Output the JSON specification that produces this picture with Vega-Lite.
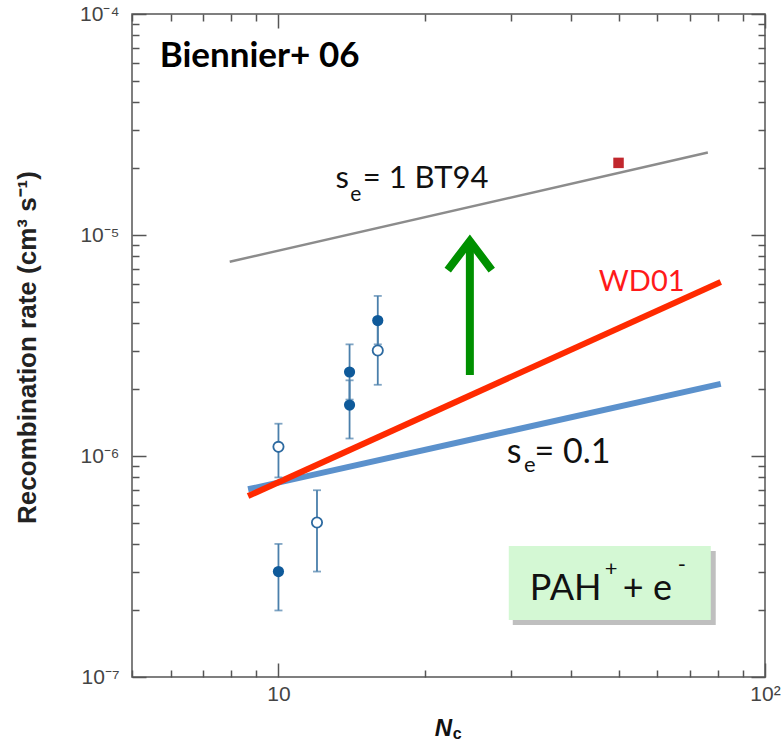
{
  "$schema": "https://vega.github.io/schema/vega-lite/v6.json",
  "width": 633,
  "height": 663,
  "autosize": {"type": "none"},
  "padding": {"left": 132, "top": 14, "right": 17, "bottom": 73},
  "background": "white",
  "config": {
    "view": {"stroke": "#555555", "strokeWidth": 1.5},
    "axis": {"grid": false, "domain": false, "tickColor": "#555555", "tickWidth": 1.5, "labelOverlap": false, "labelFlush": false}
  },
  "datasets": {
    "lines": [
      {"series": "BT94", "N": 7.94, "rate": 7.57e-6},
      {"series": "BT94", "N": 76.3, "rate": 2.36e-5},
      {"series": "s01", "N": 8.66, "rate": 7.07e-7},
      {"series": "s01", "N": 81.1, "rate": 2.12e-6},
      {"series": "WD01", "N": 8.66, "rate": 6.59e-7},
      {"series": "WD01", "N": 81.1, "rate": 6.13e-6}
    ],
    "arrowHead": [
      {"i": 0, "N": 22.28, "rate": 6.94e-6},
      {"i": 1, "N": 24.74, "rate": 9.39e-6},
      {"i": 2, "N": 27.44, "rate": 6.94e-6}
    ],
    "arrowShaft": [{"N": 24.74, "lo": 2.325e-6, "hi": 9.0e-6}],
    "expt": [
      {"N": 10, "rate": 3.0e-7, "lo": 2.0e-7, "hi": 4.0e-7, "kind": "filled"},
      {"N": 10, "rate": 1.1e-6, "lo": 8.0e-7, "hi": 1.4e-6, "kind": "open"},
      {"N": 12, "rate": 5.0e-7, "lo": 3.0e-7, "hi": 7.0e-7, "kind": "open"},
      {"N": 14, "rate": 2.4e-6, "lo": 1.8e-6, "hi": 3.2e-6, "kind": "filled"},
      {"N": 14, "rate": 1.7e-6, "lo": 1.2e-6, "hi": 2.2e-6, "kind": "filled"},
      {"N": 16, "rate": 4.1e-6, "lo": 3.2e-6, "hi": 5.3e-6, "kind": "filled"},
      {"N": 16, "rate": 3.0e-6, "lo": 2.1e-6, "hi": 4.0e-6, "kind": "open"}
    ],
    "bt94pt": [{"N": 50, "rate": 2.12e-5}],
    "box": [{"N": 29.74, "N2": 77.37, "rate": 3.915e-7, "rate2": 1.811e-7}],
    "shadow": [{"N": 30.31, "N2": 79.2, "rate": 3.716e-7, "rate2": 1.719e-7}],
    "titleText": [{"N": 5.7, "rate": 5.755e-5, "text": "Biennier+ 06"}],
    "bigText": [
      {"N": 13.1, "rate": 1.632e-5, "text": "s"},
      {"N": 14.9, "rate": 1.632e-5, "text": "= 1 BT94"}
    ],
    "bigSub": [{"N": 14.05, "rate": 1.43e-5, "text": "e"}],
    "s01Text": [
      {"N": 29.47, "rate": 9.3e-7, "text": "s"},
      {"N": 33.6, "rate": 9.3e-7, "text": "= 0.1"}
    ],
    "s01Sub": [{"N": 31.95, "rate": 8.47e-7, "text": "e"}],
    "wdText": [{"N": 45.54, "rate": 5.58e-6, "text": "WD01"}],
    "pahText": [
      {"N": 32.86, "rate": 2.23e-7, "text": "PAH"},
      {"N": 51.03, "rate": 2.23e-7, "text": "+ e"}
    ],
    "pahSup": [
      {"N": 46.84, "rate": 2.86e-7, "text": "+"},
      {"N": 66.2, "rate": 2.985e-7, "text": "-"}
    ],
    "subC": [{"N": 22.82, "rate": 5.24e-8, "text": "c"}]
  },
  "resolve": {"scale": {"x": "independent", "y": "independent"}},
  "layer": [
    {
      "layer": [
        {
          "data": {"name": "shadow"},
          "mark": {"type": "rect", "color": "#8a8a8a", "opacity": 0.55},
          "encoding": {
            "x": {"field": "N", "type": "quantitative", "scale": {"type": "log", "domain": [5, 100], "nice": false},
              "axis": {
                "values": [5, 6, 7, 8, 9, 10, 20, 30, 40, 50, 60, 70, 80, 90, 100],
                "labelExpr": "datum.value == 10 ? '10' : datum.value == 100 ? '10²' : ''",
                "tickSize": {"condition": {"test": "datum.value == 10 || datum.value == 100", "value": -14}, "value": -7},
                "labelPadding": 20,
                "labelFont": "Liberation Sans",
                "labelFontSize": 21,
                "labelColor": "#444444",
                "title": "N",
                "titleFont": "Liberation Sans",
                "titleFontStyle": "italic",
                "titleFontWeight": "bold",
                "titleFontSize": 24,
                "titleColor": "#111111",
                "titleX": 311,
                "titleY": 51,
                "titleAlign": "center",
                "titleBaseline": "middle"
              }},
            "x2": {"field": "N2"},
            "y": {"field": "rate", "type": "quantitative", "scale": {"type": "log", "domain": [1e-7, 1e-4], "nice": false},
              "axis": {
                "values": [1e-7, 2e-7, 3e-7, 4e-7, 5e-7, 6e-7, 7e-7, 8e-7, 9e-7, 1e-6, 2e-6, 3e-6, 4e-6, 5e-6, 6e-6, 7e-6, 8e-6, 9e-6, 1e-5, 2e-5, 3e-5, 4e-5, 5e-5, 6e-5, 7e-5, 8e-5, 9e-5, 1e-4],
                "labelExpr": "abs(log(datum.value)/LN10 - round(log(datum.value)/LN10)) < 0.01 ? (round(log(datum.value)/LN10) == -7 ? '10⁻⁷' : round(log(datum.value)/LN10) == -6 ? '10⁻⁶' : round(log(datum.value)/LN10) == -5 ? '10⁻⁵' : '10⁻⁴') : ''",
                "tickSize": {"condition": {"test": "abs(log(datum.value)/LN10 - round(log(datum.value)/LN10)) < 0.01", "value": -14}, "value": -7},
                "labelPadding": 27,
                "labelFont": "Liberation Sans",
                "labelFontSize": 21,
                "labelColor": "#444444",
                "title": "Recombination rate (cm³ s⁻¹)",
                "titleFont": "Liberation Sans",
                "titleFontWeight": "bold",
                "titleFontSize": 26,
                "titleColor": "#222222",
                "titleAngle": 270,
                "titleX": -105,
                "titleY": 333,
                "titleAlign": "center",
                "titleBaseline": "middle"
              }},
            "y2": {"field": "rate2"}
          }
        },
        {
          "data": {"name": "box"},
          "mark": {"type": "rect", "color": "#d4f8d4"},
          "encoding": {
            "x": {"field": "N", "type": "quantitative", "scale": {"type": "log", "domain": [5, 100], "nice": false}},
            "x2": {"field": "N2"},
            "y": {"field": "rate", "type": "quantitative", "scale": {"type": "log", "domain": [1e-7, 1e-4], "nice": false}},
            "y2": {"field": "rate2"}
          }
        },
        {
          "data": {"name": "lines"},
          "transform": [{"filter": "datum.series == 'BT94'"}],
          "mark": {"type": "line", "color": "#8c8c8c", "strokeWidth": 2.5},
          "encoding": {
            "x": {"field": "N", "type": "quantitative", "scale": {"type": "log", "domain": [5, 100], "nice": false}},
            "y": {"field": "rate", "type": "quantitative", "scale": {"type": "log", "domain": [1e-7, 1e-4], "nice": false}}
          }
        },
        {
          "data": {"name": "lines"},
          "transform": [{"filter": "datum.series == 's01'"}],
          "mark": {"type": "line", "color": "#5b91cc", "strokeWidth": 6},
          "encoding": {
            "x": {"field": "N", "type": "quantitative", "scale": {"type": "log", "domain": [5, 100], "nice": false}},
            "y": {"field": "rate", "type": "quantitative", "scale": {"type": "log", "domain": [1e-7, 1e-4], "nice": false}}
          }
        },
        {
          "data": {"name": "lines"},
          "transform": [{"filter": "datum.series == 'WD01'"}],
          "mark": {"type": "line", "color": "#ff2a00", "strokeWidth": 6},
          "encoding": {
            "x": {"field": "N", "type": "quantitative", "scale": {"type": "log", "domain": [5, 100], "nice": false}},
            "y": {"field": "rate", "type": "quantitative", "scale": {"type": "log", "domain": [1e-7, 1e-4], "nice": false}}
          }
        },
        {
          "data": {"name": "arrowShaft"},
          "mark": {"type": "rule", "color": "#009000", "strokeWidth": 8},
          "encoding": {
            "x": {"field": "N", "type": "quantitative", "scale": {"type": "log", "domain": [5, 100], "nice": false}},
            "y": {"field": "lo", "type": "quantitative", "scale": {"type": "log", "domain": [1e-7, 1e-4], "nice": false}},
            "y2": {"field": "hi"}
          }
        },
        {
          "data": {"name": "arrowHead"},
          "mark": {"type": "line", "color": "#009000", "strokeWidth": 8, "strokeJoin": "miter", "strokeCap": "butt"},
          "encoding": {
            "x": {"field": "N", "type": "quantitative", "scale": {"type": "log", "domain": [5, 100], "nice": false}},
            "y": {"field": "rate", "type": "quantitative", "scale": {"type": "log", "domain": [1e-7, 1e-4], "nice": false}},
            "order": {"field": "i"}
          }
        },
        {
          "data": {"name": "expt"},
          "mark": {"type": "rule", "color": "#4a7fab", "strokeWidth": 1.8},
          "encoding": {
            "x": {"field": "N", "type": "quantitative", "scale": {"type": "log", "domain": [5, 100], "nice": false}},
            "y": {"field": "lo", "type": "quantitative", "scale": {"type": "log", "domain": [1e-7, 1e-4], "nice": false}},
            "y2": {"field": "hi"}
          }
        },
        {
          "data": {"name": "expt"},
          "mark": {"type": "tick", "orient": "horizontal", "color": "#4a7fab", "size": 8, "thickness": 1.8},
          "encoding": {
            "x": {"field": "N", "type": "quantitative", "scale": {"type": "log", "domain": [5, 100], "nice": false}},
            "y": {"field": "lo", "type": "quantitative", "scale": {"type": "log", "domain": [1e-7, 1e-4], "nice": false}}
          }
        },
        {
          "data": {"name": "expt"},
          "mark": {"type": "tick", "orient": "horizontal", "color": "#4a7fab", "size": 8, "thickness": 1.8},
          "encoding": {
            "x": {"field": "N", "type": "quantitative", "scale": {"type": "log", "domain": [5, 100], "nice": false}},
            "y": {"field": "hi", "type": "quantitative", "scale": {"type": "log", "domain": [1e-7, 1e-4], "nice": false}}
          }
        },
        {
          "data": {"name": "expt"},
          "transform": [{"filter": "datum.kind == 'filled'"}],
          "mark": {"type": "point", "shape": "circle", "filled": true, "color": "#0f5a9a", "size": 125, "opacity": 1},
          "encoding": {
            "x": {"field": "N", "type": "quantitative", "scale": {"type": "log", "domain": [5, 100], "nice": false}},
            "y": {"field": "rate", "type": "quantitative", "scale": {"type": "log", "domain": [1e-7, 1e-4], "nice": false}}
          }
        },
        {
          "data": {"name": "expt"},
          "transform": [{"filter": "datum.kind == 'open'"}],
          "mark": {"type": "point", "shape": "circle", "filled": false, "fill": "white", "stroke": "#2d6aa0", "strokeWidth": 1.8, "size": 105, "opacity": 1},
          "encoding": {
            "x": {"field": "N", "type": "quantitative", "scale": {"type": "log", "domain": [5, 100], "nice": false}},
            "y": {"field": "rate", "type": "quantitative", "scale": {"type": "log", "domain": [1e-7, 1e-4], "nice": false}}
          }
        },
        {
          "data": {"name": "bt94pt"},
          "mark": {"type": "point", "shape": "square", "filled": true, "color": "#c1272d", "size": 110, "opacity": 1},
          "encoding": {
            "x": {"field": "N", "type": "quantitative", "scale": {"type": "log", "domain": [5, 100], "nice": false}},
            "y": {"field": "rate", "type": "quantitative", "scale": {"type": "log", "domain": [1e-7, 1e-4], "nice": false}}
          }
        },
        {
          "data": {"name": "titleText"},
          "mark": {"type": "text", "align": "left", "baseline": "alphabetic", "font": "Lato", "fontWeight": "bold", "fontSize": 35, "color": "#000000"},
          "encoding": {
            "x": {"field": "N", "type": "quantitative", "scale": {"type": "log", "domain": [5, 100], "nice": false}},
            "y": {"field": "rate", "type": "quantitative", "scale": {"type": "log", "domain": [1e-7, 1e-4], "nice": false}},
            "text": {"field": "text"}
          }
        },
        {
          "data": {"name": "bigText"},
          "mark": {"type": "text", "align": "left", "baseline": "alphabetic", "font": "Lato", "fontSize": 31, "color": "#111111"},
          "encoding": {
            "x": {"field": "N", "type": "quantitative", "scale": {"type": "log", "domain": [5, 100], "nice": false}},
            "y": {"field": "rate", "type": "quantitative", "scale": {"type": "log", "domain": [1e-7, 1e-4], "nice": false}},
            "text": {"field": "text"}
          }
        },
        {
          "data": {"name": "bigSub"},
          "mark": {"type": "text", "align": "left", "baseline": "alphabetic", "font": "Lato", "fontSize": 21, "color": "#111111"},
          "encoding": {
            "x": {"field": "N", "type": "quantitative", "scale": {"type": "log", "domain": [5, 100], "nice": false}},
            "y": {"field": "rate", "type": "quantitative", "scale": {"type": "log", "domain": [1e-7, 1e-4], "nice": false}},
            "text": {"field": "text"}
          }
        },
        {
          "data": {"name": "s01Text"},
          "mark": {"type": "text", "align": "left", "baseline": "alphabetic", "font": "Lato", "fontSize": 34, "color": "#111111"},
          "encoding": {
            "x": {"field": "N", "type": "quantitative", "scale": {"type": "log", "domain": [5, 100], "nice": false}},
            "y": {"field": "rate", "type": "quantitative", "scale": {"type": "log", "domain": [1e-7, 1e-4], "nice": false}},
            "text": {"field": "text"}
          }
        },
        {
          "data": {"name": "s01Sub"},
          "mark": {"type": "text", "align": "left", "baseline": "alphabetic", "font": "Lato", "fontSize": 22, "color": "#111111"},
          "encoding": {
            "x": {"field": "N", "type": "quantitative", "scale": {"type": "log", "domain": [5, 100], "nice": false}},
            "y": {"field": "rate", "type": "quantitative", "scale": {"type": "log", "domain": [1e-7, 1e-4], "nice": false}},
            "text": {"field": "text"}
          }
        },
        {
          "data": {"name": "wdText"},
          "mark": {"type": "text", "align": "left", "baseline": "alphabetic", "font": "Lato", "fontSize": 29, "color": "#ff1a1a"},
          "encoding": {
            "x": {"field": "N", "type": "quantitative", "scale": {"type": "log", "domain": [5, 100], "nice": false}},
            "y": {"field": "rate", "type": "quantitative", "scale": {"type": "log", "domain": [1e-7, 1e-4], "nice": false}},
            "text": {"field": "text"}
          }
        },
        {
          "data": {"name": "pahText"},
          "mark": {"type": "text", "align": "left", "baseline": "alphabetic", "font": "Lato", "fontSize": 36, "color": "#111111"},
          "encoding": {
            "x": {"field": "N", "type": "quantitative", "scale": {"type": "log", "domain": [5, 100], "nice": false}},
            "y": {"field": "rate", "type": "quantitative", "scale": {"type": "log", "domain": [1e-7, 1e-4], "nice": false}},
            "text": {"field": "text"}
          }
        },
        {
          "data": {"name": "pahSup"},
          "mark": {"type": "text", "align": "left", "baseline": "alphabetic", "font": "Lato", "fontSize": 22, "color": "#111111"},
          "encoding": {
            "x": {"field": "N", "type": "quantitative", "scale": {"type": "log", "domain": [5, 100], "nice": false}},
            "y": {"field": "rate", "type": "quantitative", "scale": {"type": "log", "domain": [1e-7, 1e-4], "nice": false}},
            "text": {"field": "text"}
          }
        },
        {
          "data": {"name": "subC"},
          "mark": {"type": "text", "align": "left", "baseline": "alphabetic", "font": "Liberation Sans", "fontWeight": "bold", "fontSize": 16, "color": "#111111"},
          "encoding": {
            "x": {"field": "N", "type": "quantitative", "scale": {"type": "log", "domain": [5, 100], "nice": false}},
            "y": {"field": "rate", "type": "quantitative", "scale": {"type": "log", "domain": [1e-7, 1e-4], "nice": false}},
            "text": {"field": "text"}
          }
        }
      ]
    },
    {
      "data": {"values": [{"N": 5, "rate": 1e-7}]},
      "mark": {"type": "point", "opacity": 0},
      "encoding": {
        "x": {"field": "N", "type": "quantitative", "scale": {"type": "log", "domain": [5, 100], "nice": false},
          "axis": {
            "orient": "top",
            "values": [5, 6, 7, 8, 9, 10, 20, 30, 40, 50, 60, 70, 80, 90, 100],
            "labels": false,
            "title": null,
            "tickSize": {"condition": {"test": "datum.value == 10 || datum.value == 100", "value": -14}, "value": -7}
          }},
        "y": {"field": "rate", "type": "quantitative", "scale": {"type": "log", "domain": [1e-7, 1e-4], "nice": false},
          "axis": {
            "orient": "right",
            "values": [1e-7, 2e-7, 3e-7, 4e-7, 5e-7, 6e-7, 7e-7, 8e-7, 9e-7, 1e-6, 2e-6, 3e-6, 4e-6, 5e-6, 6e-6, 7e-6, 8e-6, 9e-6, 1e-5, 2e-5, 3e-5, 4e-5, 5e-5, 6e-5, 7e-5, 8e-5, 9e-5, 1e-4],
            "labels": false,
            "title": null,
            "tickSize": {"condition": {"test": "abs(log(datum.value)/LN10 - round(log(datum.value)/LN10)) < 0.01", "value": -14}, "value": -7}
          }}
      }
    }
  ]
}
